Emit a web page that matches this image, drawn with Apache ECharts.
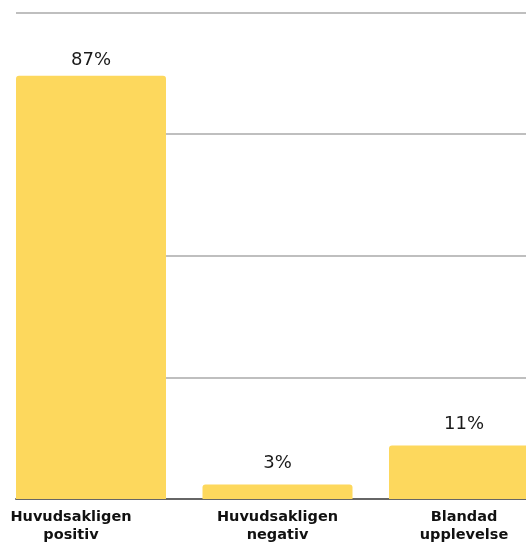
<!DOCTYPE html>
<html>
<head>
<meta charset="utf-8">
<script src="https://cdn.jsdelivr.net/npm/echarts@6/dist/echarts.min.js"></script>
<style>
html,body{margin:0;padding:0;background:#fff;}
#chart{width:526px;height:544px;}
</style>
</head>
<body>
<div id="chart"></div>
<script>
const categories = ['Huvudsakligen\npositiv', 'Huvudsakligen\nnegativ', 'Blandad\nupplevelse'];
const values = [87, 3, 11];
const yMin = 0, yMax = 100, yInterval = 25;

const chart = echarts.init(document.getElementById('chart'));
const barColor = '#fdd85d';
const gridTop = 12.5, gridBottom = 45;

const catData = categories.map((c, i) => i === 0
  ? { value: c, textStyle: { padding: [0, 40, 0, 0] } }
  : c);

const seriesData = values.map((v, i) => i === 0
  ? { value: v, label: { distance: 6 } }
  : v);

chart.setOption({
  animation: false,
  grid: [
    { left: 16, right: 0, top: gridTop, bottom: gridBottom, outerBoundsMode: 'none', containLabel: false },
    { left: -2.25, width: 559.5, top: gridTop, bottom: gridBottom, outerBoundsMode: 'none', containLabel: false }
  ],
  xAxis: [
    { gridIndex: 0, type: 'category', data: categories,
      axisLine: { show: true, lineStyle: { color: '#666', width: 2 } },
      axisTick: { show: false }, axisLabel: { show: false }, splitLine: { show: false } },
    { gridIndex: 1, type: 'category', data: catData,
      axisLine: { show: false }, axisTick: { show: false },
      axisLabel: { interval: 0, margin: 9, fontFamily: 'DejaVu Sans', fontWeight: 'bold',
        fontSize: 14.5, lineHeight: 18, color: '#111' } }
  ],
  yAxis: [
    { gridIndex: 0, type: 'value', min: yMin, max: yMax, interval: yInterval,
      axisLine: { show: false }, axisTick: { show: false }, axisLabel: { show: false },
      splitLine: { show: true, lineStyle: { color: '#bfbfbf', width: 2 } } },
    { gridIndex: 1, type: 'value', min: yMin, max: yMax, interval: yInterval,
      axisLine: { show: false }, axisTick: { show: false }, axisLabel: { show: false },
      splitLine: { show: false } }
  ],
  series: [{
    type: 'bar', xAxisIndex: 1, yAxisIndex: 1,
    data: seriesData, barWidth: 150,
    itemStyle: { color: barColor, borderRadius: [3, 3, 0, 0] },
    label: { show: true, position: 'top', distance: 12, formatter: '{c}%',
      fontFamily: 'DejaVu Sans', fontSize: 18, color: '#1a1a1a' },
    z: 2
  }]
});
</script>
</body>
</html>
